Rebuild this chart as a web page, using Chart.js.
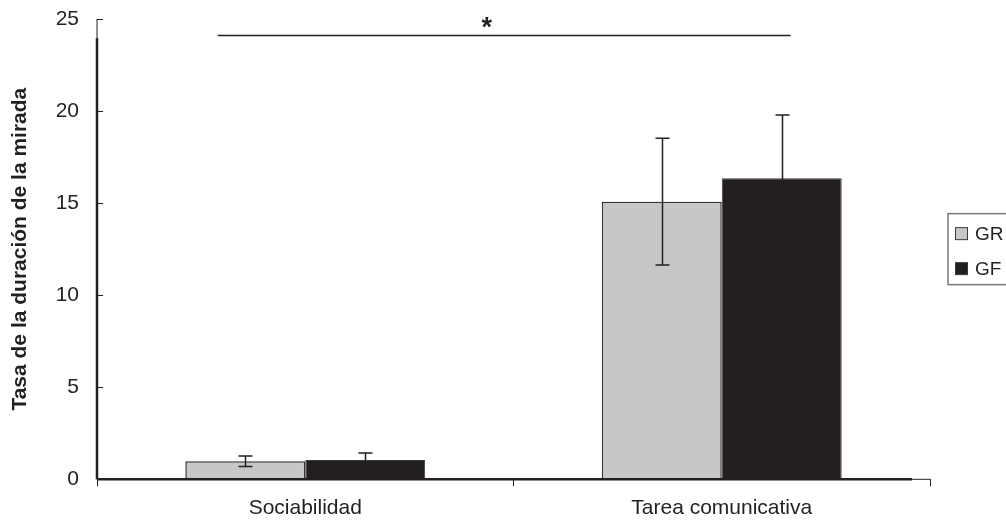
<!DOCTYPE html>
<html>
<head>
<meta charset="utf-8">
<script src="https://cdn.jsdelivr.net/npm/chart.js@4.4.1/dist/chart.umd.min.js"></script>
<style>
html,body{margin:0;padding:0;background:#fff;}
#wrap{width:1006px;height:524px;}
</style>
</head>
<body>
<div id="wrap"><canvas id="c" width="1006" height="524"></canvas></div>
<script>
const categories = ['Sociabilidad', 'Tarea comunicativa'];
const seriesNames = ['GR', 'GF'];
const grMeans = [0.98, 15.08];
const gfMeans = [1.05, 16.35];
const grErrors = [0.29, 3.44];
const gfErrors = [0.38, 3.44];
const yTicks = [0, 5, 10, 15, 20, 25];
const yTitle = 'Tasa de la duración de la mirada';
const sigSpan = [-0.21, 1.165];
const sigLevel = 24.1;
const sigLabel = '*';
const sigLabelAt = 0.436;

const INK = '#231f20';
const FONT = '"Liberation Sans", Arial, sans-serif';

const decor = {
  id: 'decor',
  afterDatasetsDraw(chart) {
    const ctx = chart.ctx, x = chart.scales.x, y = chart.scales.y, ca = chart.chartArea;
    ctx.save();
    // error bars
    chart.data.datasets.forEach((ds, di) => {
      const meta = chart.getDatasetMeta(di);
      meta.data.forEach((bar, i) => {
        const v = ds.data[i], e = ds.errors[i];
        const xc = Math.round(bar.x) + 0.5;
        const yt = y.getPixelForValue(v + e), yb = y.getPixelForValue(v - e);
        ctx.strokeStyle = INK; ctx.lineWidth = 1.5;
        ctx.beginPath();
        ctx.moveTo(xc, yt); ctx.lineTo(xc, yb);
        ctx.moveTo(xc - 7, yt); ctx.lineTo(xc + 7, yt);
        ctx.moveTo(xc - 7, yb); ctx.lineTo(xc + 7, yb);
        ctx.stroke();
      });
    });
    // axes
    const y0 = y.getPixelForValue(0);
    ctx.strokeStyle = INK;
    ctx.lineWidth = 1;
    ctx.beginPath(); ctx.moveTo(ca.left, ca.top); ctx.lineTo(ca.left, y0); ctx.stroke();
    ctx.lineWidth = 2.5;
    ctx.beginPath(); ctx.moveTo(ca.left, y.getPixelForValue(23.95)); ctx.lineTo(ca.left, y0); ctx.stroke();
    ctx.lineWidth = 1;
    yTicks.forEach(t => {
      const py = Math.round(y.getPixelForValue(t)) + 0.5;
      ctx.beginPath(); ctx.moveTo(ca.left, py); ctx.lineTo(ca.left + 6, py); ctx.stroke();
    });
    ctx.lineWidth = 1;
    ctx.beginPath(); ctx.moveTo(ca.left, y0); ctx.lineTo(ca.right, y0); ctx.stroke();
    ctx.lineWidth = 2.5;
    ctx.beginPath(); ctx.moveTo(ca.left, y0); ctx.lineTo(ca.right - 18, y0); ctx.stroke();
    // significance bracket
    const p0 = x.getPixelForValue(0), p1 = x.getPixelForValue(1);
    const xs = p0 + sigSpan[0] * (p1 - p0), xe = p0 + sigSpan[1] * (p1 - p0);
    const sy = y.getPixelForValue(sigLevel);
    ctx.lineWidth = 1.5;
    ctx.beginPath(); ctx.moveTo(xs, sy); ctx.lineTo(xe, sy); ctx.stroke();
    ctx.fillStyle = INK;
    ctx.font = 'bold 27px ' + FONT;
    ctx.textAlign = 'center'; ctx.textBaseline = 'middle';
    ctx.fillText(sigLabel, p0 + sigLabelAt * (p1 - p0), sy - 7);
    // legend
    const lx = ca.right + 18, cy = (ca.top + y0) / 2;
    const lh = 71, ly = cy - lh / 2;
    ctx.strokeStyle = '#7a7a7a'; ctx.lineWidth = 1.5;
    ctx.strokeRect(lx, ly, 120, lh);
    ctx.font = '19px ' + FONT;
    ctx.textAlign = 'left'; ctx.textBaseline = 'middle';
    chart.data.datasets.forEach((ds, di) => {
      const ry = ly + 20 + di * 35;
      ctx.fillStyle = ds.backgroundColor;
      ctx.fillRect(lx + 7.5, ry - 6, 12, 12);
      ctx.strokeStyle = '#3b3b3b'; ctx.lineWidth = 1;
      ctx.strokeRect(lx + 7.5, ry - 6, 12, 12);
      ctx.fillStyle = INK;
      ctx.fillText(ds.label, lx + 27, ry + 1);
    });
    ctx.restore();
  }
};

new Chart(document.getElementById('c'), {
  type: 'bar',
  data: {
    labels: categories,
    datasets: [
      { label: seriesNames[0], data: grMeans, errors: grErrors, backgroundColor: '#c6c7c9', borderColor: '#333333', borderWidth: 1.5, borderSkipped: false },
      { label: seriesNames[1], data: gfMeans, errors: gfErrors, backgroundColor: '#231f20', borderColor: '#3b3b3b', borderWidth: 1, borderSkipped: false }
    ]
  },
  options: {
    responsive: false,
    animation: false,
    devicePixelRatio: 1,
    layout: { padding: { top: 19, right: 76, bottom: 0, left: 0 } },
    datasets: { bar: { categoryPercentage: 0.576, barPercentage: 1.0 } },
    plugins: { legend: { display: false }, tooltip: { enabled: false } },
    scales: {
      x: {
        grid: { display: true, drawOnChartArea: false, drawTicks: true, tickLength: 7, color: INK, offset: true },
        border: { display: false },
        ticks: { color: INK, font: { family: FONT, size: 21 }, padding: 9 },
        afterFit: s => { s.height = 44.7; s.paddingLeft = 0; s.paddingRight = 0; }
      },
      y: {
        min: 0, max: 25,
        afterBuildTicks: s => { s.ticks = yTicks.map(v => ({ value: v })); },
        grid: { display: false, drawTicks: false },
        border: { display: false },
        ticks: { color: INK, font: { family: FONT, size: 21 }, padding: 18 },
        title: { display: true, text: yTitle, color: INK, font: { family: FONT, size: 21, weight: 'bold' }, padding: { top: 8, bottom: 0 } },
        afterFit: s => { s.width = 97; s.paddingTop = 0; s.paddingBottom = 0; }
      }
    }
  },
  plugins: [decor]
});
</script>
</body>
</html>
